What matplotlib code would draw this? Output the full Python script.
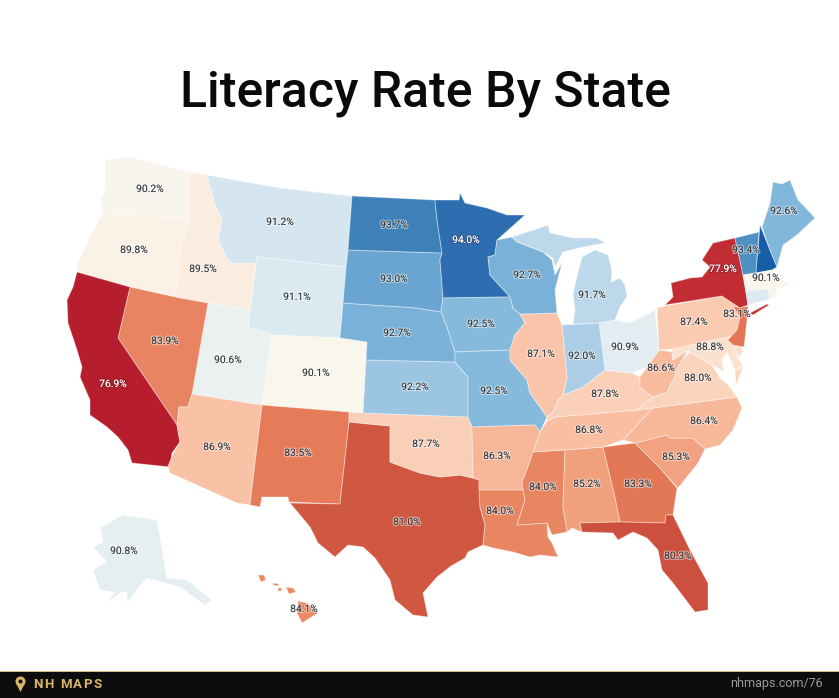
import matplotlib
matplotlib.use("Agg")
import matplotlib.pyplot as plt
import matplotlib.patheffects as pe
from matplotlib.colors import LinearSegmentedColormap
from matplotlib.patches import Polygon, Circle, Rectangle

TITLE = "Literacy Rate By State"
BRAND = "NH MAPS"
SOURCE = "nhmaps.com/76"

# literacy rate (percent)
STATES = ["WA","OR","ID","MT","WY","UT","CO","NV","CA","AZ","NM","TX","OK","KS","NE","SD","ND","MN","IA","MO",
          "AR","LA","MS","AL","GA","SC","NC","TN","KY","VA","WV","MD","PA","NY","NJ","VT","MA","ME","OH","IN",
          "IL","WI","MI","FL","HI","AK"]
RATES = [90.2,89.8,89.5,91.2,91.1,90.6,90.1,83.9,76.9,86.9,83.5,81.0,87.7,92.2,92.7,93.0,93.7,94.0,92.5,92.5,
         86.3,84.0,84.0,85.2,83.3,85.3,86.4,86.8,87.8,88.0,86.6,88.8,87.4,77.9,83.1,93.4,90.1,92.6,90.9,92.0,
         87.1,92.7,91.7,80.3,84.1,90.8]
# states coloured on the map but carrying no printed label (estimated from colour)
UNLABELLED = {"NH": 94.4, "CT": 91.1, "RI": 90.0, "DE": 88.6}

# colour scale sampled from the map
SCALE_VALUES = [76.5, 78, 81, 83.5, 85, 87, 88.5, 89.6, 90.1, 90.7, 91.2, 91.8, 92.5, 93, 93.7, 94, 94.5]
SCALE_COLORS = ["#b2182b","#c42f34","#d05840","#e57b58","#f09c78","#fac3a8","#fbdcc8","#fbeee3","#faf6ec",
                "#e9f0f1","#d8e7f1","#bcd7ea","#87bbde","#6ba6d2","#3f83ba","#2d6db0","#125ca5"]

# state outlines (map geometry, image pixels)
SHAPES = {
"WA":[[(105,160),(130,157),(190,172),(190,220),(165,217),(140,214),(118,214),(103,212),(100,200),(105,190)]],
"OR":[[(77,272),(78,263),(90,237),(103,212),(118,214),(140,214),(165,217),(190,220),(180,250),(178,283),(175,292),(180,298),(130,287)]],
"ID":[[(190,172),(207,175),(215,205),(222,220),(218,240),(228,260),(232,263),(256,263),(250,310),(208,303),(180,298),(175,292),(178,283),(180,250),(190,220)]],
"MT":[[(207,175),(280,188),(352,196),(348,250),(346,267),(257,257),(256,263),(232,263),(228,260),(218,240),(222,220),(215,205)]],
"WY":[[(257,257),(346,267),(343,303),(340,338),(272,335),(248,327)]],
"UT":[[(208,303),(250,310),(248,327),(272,335),(262,405),(192,394)]],
"CO":[[(272,335),(340,338),(367,342),(366,360),(363,413),(349,412),(262,405)]],
"NV":[[(130,287),(180,298),(208,303),(192,394),(188,407),(179,407),(177,425),(118,338)]],
"CA":[[(77,272),(130,287),(118,338),(177,425),(180,442),(172,453),(170,467),(132,463),(128,450),(118,437),(107,427),(90,415),(90,400),(80,377),(82,367),(77,350),(68,323),(67,300),(73,287)]],
"AZ":[[(192,394),(262,405),(250,505),(237,503),(170,473),(168,466),(174,452),(180,442),(177,425),(179,407),(188,407)]],
"NM":[[(262,405),(349,412),(349,422),(340,504),(289,502),(288,497),(262,497),(260,507),(250,505)]],
"TX":[[(349,422),(390,426),(390,462),(420,473),(440,477),(460,475),(473,478),(479,480),(480,507),(485,525),(483,545),(468,552),(465,558),(451,566),(437,577),(423,593),(428,617),(413,615),(395,600),(390,580),(375,558),(363,547),(348,545),(335,557),(318,543),(310,527),(290,503),(340,504)]],
"OK":[[(349,412),(363,413),(468,417),(472,427),(473,478),(460,475),(440,477),(420,473),(390,462),(390,426),(349,422)]],
"KS":[[(366,360),(455,362),(462,370),(468,377),(468,417),(363,413)]],
"NE":[[(343,303),(417,308),(441,312),(447,327),(455,352),(455,362),(366,360),(367,342),(340,338)]],
"SD":[[(348,250),(442,253),(440,260),(443,298),(441,312),(417,308),(343,303),(346,267)]],
"ND":[[(352,196),(435,200),(437,220),(442,253),(348,250)]],
"MN":[[(435,200),(459,200),(460,193),(465,203),(487,208),(507,215),(525,215),(497,240),(495,255),(488,257),(490,275),(510,297),(443,298),(440,260),(442,253),(437,220)]],
"IA":[[(443,298),(510,297),(513,308),(520,314),(525,323),(515,335),(510,350),(455,352),(447,327),(441,312)]],
"MO":[[(455,352),(510,350),(510,360),(527,380),(530,393),(547,417),(540,432),(535,425),(472,427),(468,417),(468,377),(462,370),(455,362)]],
"AR":[[(472,427),(535,425),(540,432),(533,452),(528,467),(522,482),(523,490),(479,490),(479,480),(473,478)]],
"LA":[[(479,490),(523,490),(525,500),(517,525),(547,523),(548,537),(552,543),(558,557),(540,555),(530,557),(513,552),(493,548),(483,545),(485,525),(480,507)]],
"MS":[[(533,452),(565,450),(563,507),(567,532),(552,535),(547,523),(517,525),(525,500),(523,490),(522,482),(528,467)]],
"AL":[[(565,450),(603,447),(615,497),(620,522),(580,523),(582,532),(572,528),(567,532),(563,507)]],
"GA":[[(603,447),(635,443),(660,468),(677,488),(673,515),(666,515),(665,523),(620,522),(615,497)]],
"SC":[[(635,443),(667,435),(670,438),(693,438),(705,449),(698,463),(678,488),(660,468)]],
"NC":[[(653,408),(737,397),(742,408),(733,430),(720,445),(705,449),(693,438),(670,438),(667,435),(635,443),(623,440)]],
"TN":[[(533,452),(540,432),(547,421),(555,417),(637,410),(653,408),(623,440),(603,447),(565,450)]],
"KY":[[(547,421),(547,417),(553,412),(558,400),(563,395),(583,387),(605,370),(632,373),(640,377),(640,387),(653,397),(637,410),(555,417)]],
"VA":[[(637,410),(653,397),(667,392),(673,380),(678,367),(683,358),(690,352),(700,358),(712,365),(720,378),(728,385),(737,397),(653,408)],
      [(735,371),(743,367),(736,385)]],
"WV":[[(659,350),(672,352),(673,360),(688,350),(683,358),(678,367),(673,380),(667,392),(653,397),(640,387),(640,377),(647,367)]],
"MD":[[(672,349),(732,336),(738,358),(743,366),(735,370),(727,352),(722,360),(724,372),(712,365),(700,358),(690,352),(688,350),(673,360),(672,352)]],
"DE":[[(732,336),(737,333),(743,352),(738,358)]],
"PA":[[(657,308),(665,306),(722,296),(740,308),(740,317),(737,330),(732,336),(672,349),(659,350)]],
"NY":[[(665,305),(673,297),(671,283),(690,278),(702,277),(710,267),(702,260),(713,243),(735,238),(742,270),(743,275),(748,305),(740,308),(722,296)],
      [(750,313),(767,304),(769,305),(753,315)]],
"NJ":[[(733,306),(740,308),(748,306),(747,320),(744,347),(733,345),(728,340),(737,330),(740,317)]],
"VT":[[(735,238),(759,232),(756,273),(743,275),(742,270)]],
"NH":[[(760,225),(770,250),(777,267),(772,270),(756,273)]],
"ME":[[(762,227),(770,203),(773,182),(782,184),(790,180),(798,200),(805,207),(815,218),(797,235),(783,245),(777,267),(770,250)]],
"MA":[[(743,275),(756,273),(772,270),(777,277),(790,283),(782,288),(746,291)]],
"CT":[[(746,291),(768,289),(770,299),(748,305)]],
"RI":[[(768,289),(776,287),(777,295),(770,299)]],
"OH":[[(599,323),(615,320),(630,323),(655,310),(659,350),(647,367),(632,373),(605,370)]],
"IN":[[(562,325),(599,323),(605,370),(583,387),(563,395),(567,377)]],
"IL":[[(520,314),(557,313),(562,325),(567,377),(563,395),(558,400),(553,412),(547,417),(530,393),(527,380),(510,360),(510,350),(515,335),(525,323)]],
"WI":[[(497,240),(512,237),(517,242),(543,252),(552,260),(555,275),(562,263),(555,290),(557,313),(520,314),(513,308),(510,297),(490,275),(488,257),(495,255)]],
"MI":[[(573,324),(575,310),(573,293),(578,273),(582,257),(595,250),(608,255),(612,270),(611,282),(620,278),(625,285),(627,297),(620,307),(615,320),(599,323)],
      [(512,237),(527,232),(540,228),(548,225),(550,233),(573,238),(597,238),(605,243),(583,247),(563,252),(555,267),(553,258),(543,252),(517,242)]],
"FL":[[(580,523),(620,522),(665,523),(666,515),(673,515),(690,550),(708,583),(708,610),(695,612),(673,583),(662,570),(658,550),(647,538),(633,532),(618,540),(613,533),(582,532)]],
"HI":[[(298,601),(307,603),(318,613),(302,623),(297,613)],
      [(258,575),(264,575),(266,580),(261,582)],
      [(273,583),(279,584),(278,586),(273,585)],
      [(278,588),(282,588),(281,591),(278,591)],
      [(286,587),(293,588),(296,592),(289,594)]],
"AK":[[(100,528),(123,515),(157,520),(167,578),(187,580),(212,600),(205,605),(180,587),(147,578),(135,592),(127,603),(127,592),(120,593),(88,617),(107,603),(115,592),(100,590),(93,570),(107,562),(93,547),(103,542)]],
}

LABEL_AT = {"WA":(150,189),"OR":(134,250),"ID":(203,269),"MT":(280,222),"WY":(297,297),"UT":(228,360),"CO":(316,373),
"NV":(165,341),"CA":(113,384),"AZ":(217,447),"NM":(298,453),"TX":(407,522),"OK":(426,444),"KS":(415,387),"NE":(397,333),
"SD":(394,279),"ND":(394,225),"MN":(466,240),"IA":(481,324),"MO":(494,391),"AR":(497,456),"LA":(500,511),"MS":(543,487),
"AL":(587,484),"GA":(638,484),"SC":(676,457),"NC":(704,421),"TN":(589,430),"KY":(605,394),"VA":(698,378),"WV":(661,368),
"MD":(710,347),"PA":(694,322),"NY":(723,269),"NJ":(737,314),"VT":(746,250),"MA":(766,278),"ME":(784,211),"OH":(625,347),
"IN":(582,356),"IL":(541,354),"WI":(527,275),"MI":(592,295),"FL":(678,556),"HI":(304,609),"AK":(124,551)}

LIGHT_TEXT = {"CA","NY","MN"}

CMAP = LinearSegmentedColormap.from_list(
    "literacy",
    [((v - SCALE_VALUES[0]) / (SCALE_VALUES[-1] - SCALE_VALUES[0]), c) for v, c in zip(SCALE_VALUES, SCALE_COLORS)],
)

def colour(v):
    return CMAP((v - SCALE_VALUES[0]) / (SCALE_VALUES[-1] - SCALE_VALUES[0]))

plt.rcParams["font.family"] = ["Roboto", "DejaVu Sans"]
fig = plt.figure(figsize=(8.39, 6.98), dpi=100, facecolor="white")
ax = fig.add_axes([0, 0, 1, 1])
ax.set_xlim(0, 839)
ax.set_ylim(698, 0)
ax.axis("off")

values = dict(zip(STATES, RATES))
values.update(UNLABELLED)
for st, rings in SHAPES.items():
    for ring in rings:
        ax.add_patch(Polygon(ring, closed=True, facecolor=colour(values[st]),
                             edgecolor=(1, 1, 1, 0.4), linewidth=0.7, joinstyle="round"))

for st, rate in zip(STATES, RATES):
    x, y = LABEL_AT[st]
    if st in LIGHT_TEXT:
        tc, halo = "white", (0.2, 0.1, 0.1, 0.25)
    else:
        tc, halo = "#33383c", (1, 1, 1, 0.5)
    ax.text(x, y, f"{rate:.1f}%", ha="center", va="center", fontsize=7.4, color=tc,
            path_effects=[pe.withStroke(linewidth=1.6, foreground=halo)], zorder=5)

ax.text(425, 93, TITLE, ha="center", va="center", fontsize=36, fontweight="medium", color="#0a0a0a")

# footer strip
ax.add_patch(Rectangle((0, 672), 839, 26, facecolor="#0d0d0d", edgecolor="none", zorder=6))
ax.add_patch(Rectangle((0, 671), 839, 1.2, facecolor="#d8bd82", edgecolor="none", zorder=7))
ax.add_patch(Polygon([(25.3, 682.5), (20.5, 692), (15.7, 682.5)], closed=True, facecolor="#d9b768", edgecolor="none", zorder=7))
ax.add_patch(Circle((20.5, 681.5), 5, facecolor="#d9b768", edgecolor="none", zorder=7))
ax.add_patch(Circle((20.5, 681.5), 2, facecolor="#0d0d0d", edgecolor="none", zorder=8))
x0 = 33
for ch, adv in zip(BRAND, [11.0, 11.0, 4.8, 13.0, 10.2, 10.0, 9.6]):
    ax.text(x0, 684.5, ch, ha="left", va="center", fontsize=9.5, fontweight="bold",
            color="#d9b768", zorder=8)
    x0 += adv
ax.text(823, 684, SOURCE, ha="right", va="center", fontsize=9.0, color="#9a9a9a", zorder=8)

fig.savefig("out.png", dpi=100)
